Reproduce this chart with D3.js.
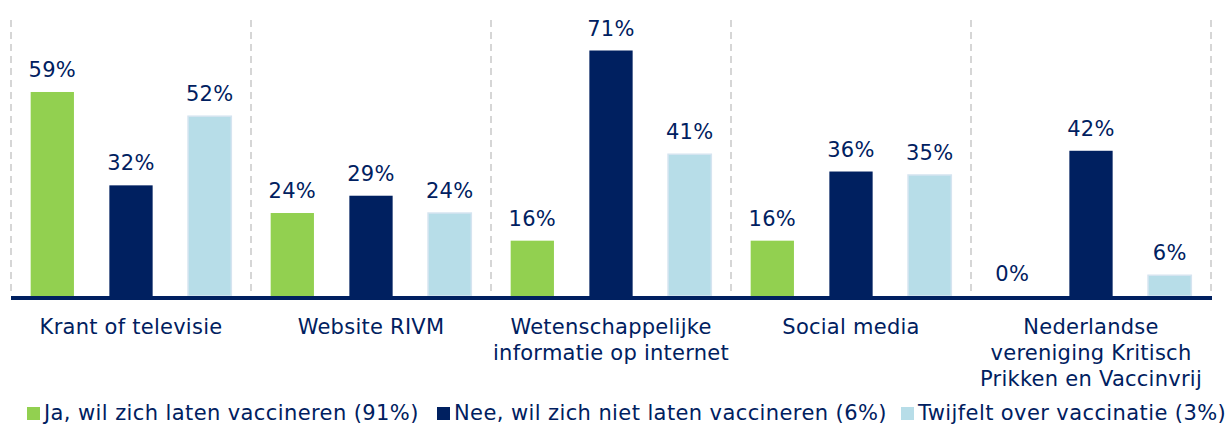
<!DOCTYPE html>
<html>
<head>
<meta charset="utf-8">
<script src="https://cdn.jsdelivr.net/npm/d3@7"></script>
<style>
  body { margin: 0; background: #fff; }
  svg text { font-family: "DejaVu Sans", Verdana, sans-serif; fill: #002060; }
</style>
</head>
<body>
<svg></svg>
<script>
// chart data
const categories = [
    ["Krant of televisie"],
    ["Website RIVM"],
    ["Wetenschappelijke", "informatie op internet"],
    ["Social media"],
    ["Nederlandse", "vereniging Kritisch", "Prikken en Vaccinvrij"]
];
const seriesNames = [
    "Ja, wil zich laten vaccineren (91%)",
    "Nee, wil zich niet laten vaccineren (6%)",
    "Twijfelt over vaccinatie (3%)"
];
const ja = [59, 24, 16, 16, 0];
const nee = [32, 29, 71, 36, 42];
const twijfel = [52, 24, 41, 35, 6];
const colors = ["#92d050", "#002060", "#b7dde8"];

const width = 1231, height = 426;
const baseY = 296;

const svg = d3.select("svg")
    .attr("width", width)
    .attr("height", height);

const values = [ja, nee, twijfel];
const catIdx = d3.range(categories.length);

// x scales
const x0 = d3.scaleBand()
    .domain(catIdx)
    .range([11, 1211])
    .padding(0);

const x1 = d3.scaleBand()
    .domain(d3.range(seriesNames.length))
    .range([0, x0.bandwidth()])
    .paddingInner(0.45)
    .paddingOuter(0.25);

// y scale
const y = d3.scaleLinear()
    .domain([0, 71])
    .range([baseY, 50.5]);

// dashed separators
svg.append("g")
    .selectAll("line")
    .data(d3.range(categories.length + 1))
    .join("line")
    .attr("x1", d => d < categories.length ? x0(d) : x0(d - 1) + x0.bandwidth())
    .attr("x2", d => d < categories.length ? x0(d) : x0(d - 1) + x0.bandwidth())
    .attr("y1", 20)
    .attr("y2", baseY)
    .attr("stroke", "#d6d6d6")
    .attr("stroke-width", 2)
    .attr("stroke-dasharray", "7,5");

// bars
const groups = svg.append("g")
    .selectAll("g")
    .data(catIdx)
    .join("g")
    .attr("transform", d => `translate(${x0(d)},0)`);

groups.selectAll("rect")
    .data(c => values.map((s, i) => ({ s: i, v: s[c] })))
    .join("rect")
    .attr("x", d => x1(d.s))
    .attr("width", x1.bandwidth())
    .attr("y", d => y(d.v))
    .attr("height", d => baseY - y(d.v))
    .attr("fill", d => colors[d.s])
    .attr("stroke", d => d.s === 2 ? "#d5e4f0" : "none")
    .attr("stroke-width", 1.5);

// value labels
groups.selectAll("text.val")
    .data(c => values.map((s, i) => ({ s: i, v: s[c] })))
    .join("text")
    .attr("class", "val")
    .attr("x", d => x1(d.s) + x1.bandwidth() / 2)
    .attr("y", d => y(d.v) - 15)
    .attr("text-anchor", "middle")
    .style("font-size", "21px")
    .style("letter-spacing", "0.3px")
    .text(d => d.v + "%");

// baseline
svg.append("line")
    .attr("x1", 11)
    .attr("x2", 1212)
    .attr("y1", baseY + 2)
    .attr("y2", baseY + 2)
    .attr("stroke", "#002060")
    .attr("stroke-width", 4);

// category labels
groups.append("text")
    .attr("x", x0.bandwidth() / 2)
    .attr("text-anchor", "middle")
    .style("font-size", "21px")
    .style("letter-spacing", "0.25px")
    .selectAll("tspan")
    .data(c => categories[c])
    .join("tspan")
    .attr("x", x0.bandwidth() / 2)
    .attr("y", (d, i) => 334 + i * 26)
    .text(d => d);

// legend
const legendX = [27, 437, 901];
const legend = svg.append("g")
    .selectAll("g")
    .data(seriesNames)
    .join("g")
    .attr("transform", (d, i) => `translate(${legendX[i]},0)`);

legend.append("rect")
    .attr("y", 407)
    .attr("width", 13)
    .attr("height", 13)
    .attr("fill", (d, i) => colors[i]);

legend.append("text")
    .attr("x", 17)
    .attr("y", 420)
    .style("font-size", "21px")
    .style("letter-spacing", "0.4px")
    .text(d => d);
</script>
</body>
</html>
